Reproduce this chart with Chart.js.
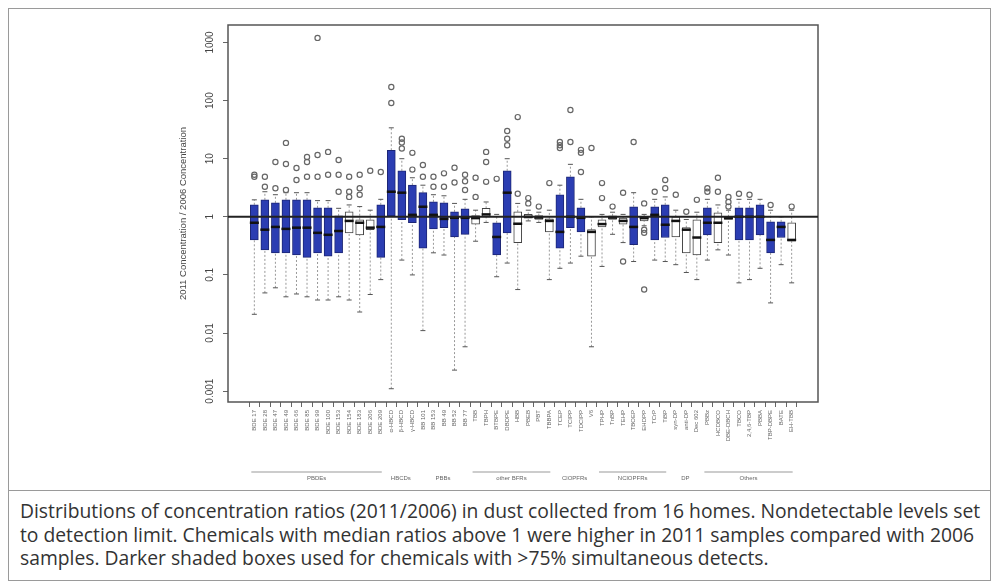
<!DOCTYPE html>
<html>
<head>
<meta charset="utf-8">
<script src="https://cdn.jsdelivr.net/npm/chart.js@4.4.0/dist/chart.umd.min.js"></script>
<style>
  body { margin: 0; background: #fff; }
  #frame { position: absolute; left: 8px; top: 8px; width: 981px; height: 571px; border: 1px solid #9a9a9a; }
  #sep { position: absolute; left: 8px; top: 490px; width: 983px; border-top: 1px solid #9a9a9a; }
  #chart { position: absolute; left: 0; top: 0; }
  #caption { position: absolute; left: 20px; top: 499px; font-family: "Open Sans", sans-serif; font-size: 19.3px;
             line-height: 23.5px; color: #333; white-space: nowrap; }
</style>
</head>
<body>
<div id="frame"></div>
<div id="sep"></div>
<canvas id="chart" width="997" height="490"></canvas>
<div id="caption">
  Distributions of concentration ratios (2011/2006) in dust collected from 16 homes. Nondetectable levels set<br>
  to detection limit. Chemicals with median ratios above 1 were higher in 2011 samples compared with 2006<br>
  samples. Darker shaded boxes used for chemicals with &gt;75% simultaneous detects.
</div>
<script>
// chemicals in plotting order (labels are illegible in the scan, names are best guesses)
const chemicals = [
  'BDE 17', 'BDE 28', 'BDE 47', 'BDE 49', 'BDE 66', 'BDE 85', 'BDE 99', 'BDE 100', 'BDE 153', 'BDE 154',
  'BDE 183', 'BDE 206', 'BDE 209',
  'α-HBCD', 'β-HBCD', 'γ-HBCD',
  'BB 101', 'BB 153', 'BB 49', 'BB 52', 'BB 77',
  'TBB', 'TBPH', 'BTBPE', 'DBDPE', 'HBB', 'PBEB', 'PBT', 'TBBPA',
  'TCEP', 'TCIPP', 'TDCIPP', 'V6',
  'TPHP', 'TnBP', 'TEHP', 'TBOEP', 'EHDPP', 'TCrP', 'TiBP',
  'syn-DP', 'anti-DP', 'Dec 602',
  'PBBz', 'HCDBCO', 'DBE-DBCH', 'TBCO', '2,4,6-TBP', 'PBBA', 'TBP-DBPE', 'BATE', 'EH-TBB'
];

// ratio 2011/2006, boxplot statistics
const lowWhisker = [0.021, 0.049, 0.060, 0.042, 0.047, 0.042, 0.037, 0.037, 0.042, 0.037, 0.023, 0.046, 0.083,
  0.0011, 0.18, 0.10, 0.011, 0.24, 0.22, 0.0023, 0.0058, 0.38, 0.8, 0.093, 0.16, 0.056, 0.85, 0.8, 0.083,
  0.13, 0.16, 0.21, 0.0058, 0.14, 0.5, 0.36, 0.17, 0.7, 0.18, 0.17, 0.15, 0.11, 0.083,
  0.18, 0.27, 0.22, 0.073, 0.083, 0.13, 0.033, 0.15, 0.073];
const q1 = [0.40, 0.27, 0.24, 0.24, 0.22, 0.20, 0.24, 0.21, 0.24, 0.53, 0.49, 0.60, 0.20,
  1.04, 0.89, 0.79, 0.29, 0.62, 0.65, 0.45, 0.50, 0.75, 1.0, 0.22, 0.53, 0.36, 0.95, 0.9, 0.55,
  0.29, 0.65, 0.55, 0.21, 0.67, 0.9, 0.75, 0.33, 0.85, 0.40, 0.44, 0.45, 0.24, 0.22,
  0.49, 0.36, 0.9, 0.40, 0.40, 0.49, 0.24, 0.44, 0.38];
const median = [0.79, 0.60, 0.67, 0.62, 0.65, 0.65, 0.53, 0.49, 0.57, 0.85, 0.79, 0.65, 0.67,
  2.7, 2.6, 1.08, 1.49, 1.08, 0.92, 0.96, 0.96, 0.95, 1.1, 0.45, 2.6, 0.76, 1.0, 0.97, 0.85,
  0.55, 1.0, 0.96, 0.55, 0.75, 0.97, 0.85, 0.67, 0.95, 1.08, 0.73, 0.85, 0.60, 0.44,
  0.79, 0.79, 0.95, 1.0, 1.0, 1.0, 0.40, 0.67, 0.40];
const q3 = [1.61, 1.96, 1.74, 1.96, 1.96, 1.96, 1.43, 1.43, 1.04, 1.22, 0.89, 0.89, 1.61,
  14, 6.2, 3.5, 2.6, 1.81, 1.74, 1.22, 1.37, 1.05, 1.4, 0.79, 6.2, 1.22, 1.1, 1.05, 0.92,
  2.4, 4.9, 1.43, 0.60, 0.89, 1.04, 0.95, 1.49, 1.0, 1.49, 1.61, 1.0, 0.65, 0.89,
  1.43, 1.17, 1.0, 1.43, 1.43, 1.61, 0.82, 0.82, 0.79];
const highWhisker = [1.96, 2.7, 2.4, 2.6, 2.6, 2.6, 1.9, 1.9, 1.4, 1.6, 1.5, 1.3, 2.0,
  34, 10, 4.7, 3.5, 2.4, 2.3, 1.7, 2.0, 1.3, 1.8, 1.1, 10, 1.7, 1.3, 1.2, 1.3,
  3.5, 8.0, 2.0, 1.0, 1.1, 1.2, 1.1, 2.6, 1.1, 2.0, 2.2, 1.3, 0.9, 1.2,
  2.0, 1.6, 1.3, 2.0, 2.0, 2.0, 1.3, 1.0, 1.3];
const outliers = [
  [4.9, 5.3], [4.9, 3.3], [8.8, 3.1], [18.7, 8.1, 2.9], [6.9, 4.3], [10.7, 8.8, 4.9], [1200, 11.6, 4.9],
  [13.1, 5.3], [9.5, 5.3, 2.7], [4.9, 2.7, 2.2], [5.3, 3.1, 2.4], [6.2], [5.9],
  [91, 171], [22, 19, 15], [12.6, 6.5],
  [7.8, 4.9], [4.9, 3.3], [5.6, 3.3], [7.0, 3.9], [5.3, 4.1, 2.9],
  [4.7, 2.2], [13.1, 8.8, 4.0], [4.5], [30, 22, 17], [52, 2.5], [2.1, 1.7], [1.5], [3.8],
  [19.4, 17, 15.3], [69, 19.4], [14.2, 12.6, 5.9], [15.3],
  [3.8, 2.1], [1.5], [2.6, 0.17], [19.4], [1.7, 0.6, 0.53, 0.056], [2.7], [4.3, 3.1],
  [2.4], [1.22], [1.96],
  [3.1, 2.7], [4.7, 2.7], [2.2, 1.8, 1.5], [2.5], [2.4], [], [1.6], [], [1.5]
];
// >75% simultaneous detects -> dark shaded box
const highDetects = [true, true, true, true, true, true, true, true, true, false, false, false, true,
  true, true, true, true, true, true, true, true, false, false, true, true, false, false, false, false,
  true, true, true, false, false, false, false, true, false, true, true, false, false, false,
  true, false, false, true, true, true, true, true, false];

const groups = ['PBDEs', 'HBCDs', 'PBBs', 'other BFRs', 'ClOPFRs', 'NClOPFRs', 'DP', 'Others'];
const groupFirst = [0, 13, 16, 21, 29, 33, 40, 43];
const groupLast = [12, 15, 20, 28, 32, 39, 42, 51];
const groupRule = [true, false, false, true, false, true, false, true];

const yTicks = [0.001, 0.01, 0.1, 1, 10, 100, 1000];

const BLUE = '#2b3db2';
const idx = chemicals.map((_, i) => i);

const boxData = idx.map(i => ({ x: i, y: [q1[i], q3[i]] }));
const medianData = idx.map(i => ({ x: i, y: median[i] }));
const whiskerData = [];
idx.forEach(i => {
  whiskerData.push({ x: i, y: lowWhisker[i] }, { x: i, y: q1[i] }, { x: i, y: null },
                   { x: i, y: q3[i] }, { x: i, y: highWhisker[i] }, { x: i, y: null });
});
const capData = idx.flatMap(i => [{ x: i, y: lowWhisker[i] }, { x: i, y: highWhisker[i] }]);
const outlierData = idx.flatMap(i => outliers[i].map(v => ({ x: i, y: v })));

const frameAndGroups = {
  id: 'frameAndGroups',
  beforeDatasetsDraw(chart) {
    const { ctx, chartArea: a } = chart;
    ctx.save();
    ctx.strokeStyle = '#555';
    ctx.lineWidth = 1.5;
    ctx.strokeRect(a.left, a.top, a.right - a.left, a.bottom - a.top);
    ctx.restore();
  },
  afterDraw(chart) {
    const { ctx } = chart;
    const x = chart.scales.x;
    ctx.save();
    ctx.font = '6px "Liberation Sans", Arial, sans-serif';
    ctx.fillStyle = '#666';
    ctx.strokeStyle = '#999';
    ctx.lineWidth = 1;
    ctx.textAlign = 'center';
    ctx.textBaseline = 'middle';
    groups.forEach((g, k) => {
      const x0 = x.getPixelForValue(groupFirst[k]) - 3;
      const x1 = x.getPixelForValue(groupLast[k]) + 1;
      if (groupRule[k]) {
        ctx.beginPath();
        ctx.moveTo(x0, 472);
        ctx.lineTo(x1, 472);
        ctx.stroke();
      }
      ctx.fillText(g, (x0 + x1) / 2, 478);
    });
    ctx.restore();
  }
};

new Chart(document.getElementById('chart'), {
  type: 'bar',
  data: {
    datasets: [
      {
        type: 'line', data: [{ x: -2.5, y: 1 }, { x: 53.5, y: 1 }],
        borderColor: '#222', borderWidth: 2, pointRadius: 0, order: 0
      },
      {
        type: 'scatter', data: medianData, pointStyle: 'line', pointRadius: 4.5,
        borderColor: '#111', borderWidth: 2.5, order: 1
      },
      {
        type: 'scatter', data: outlierData, pointStyle: 'circle', pointRadius: 2.6,
        borderColor: '#666', backgroundColor: 'rgba(255,255,255,0)', borderWidth: 1.2, order: 2
      },
      {
        type: 'scatter', data: capData, pointStyle: 'line', pointRadius: 2.5,
        borderColor: '#555', borderWidth: 1, order: 3
      },
      {
        data: boxData, barThickness: 8, borderSkipped: false, borderWidth: 1,
        backgroundColor: c => highDetects[c.dataIndex] ? BLUE : '#fff',
        borderColor: c => highDetects[c.dataIndex] ? '#1c2675' : '#444',
        order: 4
      },
      {
        type: 'line', data: whiskerData, spanGaps: false, borderColor: '#999',
        borderWidth: 1, borderDash: [2, 2], pointRadius: 0, order: 5
      }
    ]
  },
  options: {
    responsive: false,
    animation: false,
    layout: { padding: { left: 178, right: 179, top: 25, bottom: 0 } },
    plugins: { legend: { display: false }, tooltip: { enabled: false } },
    scales: {
      x: {
        type: 'linear', min: -2.5, max: 53.5, offset: false,
        afterBuildTicks: s => { s.ticks = idx.map(i => ({ value: i })); },
        afterFit: s => { s.height = 88; },
        grid: { drawOnChartArea: false, drawTicks: true, tickLength: 5, color: '#666' },
        border: { display: false },
        ticks: {
          autoSkip: false, minRotation: 90, maxRotation: 90, padding: 3,
          font: { size: 6, family: '"Liberation Sans", Arial, sans-serif' }, color: '#666',
          callback: v => chemicals[v]
        }
      },
      y: {
        type: 'logarithmic', min: 0.00065, max: 2000,
        afterBuildTicks: s => { s.ticks = yTicks.map(v => ({ value: v })); },
        afterFit: s => { s.width = 50; },
        grid: { drawOnChartArea: false, drawTicks: true, tickLength: 5, color: '#666' },
        border: { display: false },
        ticks: {
          minRotation: 90, maxRotation: 90, crossAlign: 'center', padding: 0,
          font: { size: 10, family: '"Liberation Sans", Arial, sans-serif' }, color: '#444',
          callback: v => String(v)
        },
        title: {
          display: true, text: '2011 Concentration / 2006 Concentration', padding: 0,
          font: { size: 9.5, family: '"Liberation Sans", Arial, sans-serif' }, color: '#444'
        }
      }
    }
  },
  plugins: [frameAndGroups]
});
</script>
</body>
</html>
